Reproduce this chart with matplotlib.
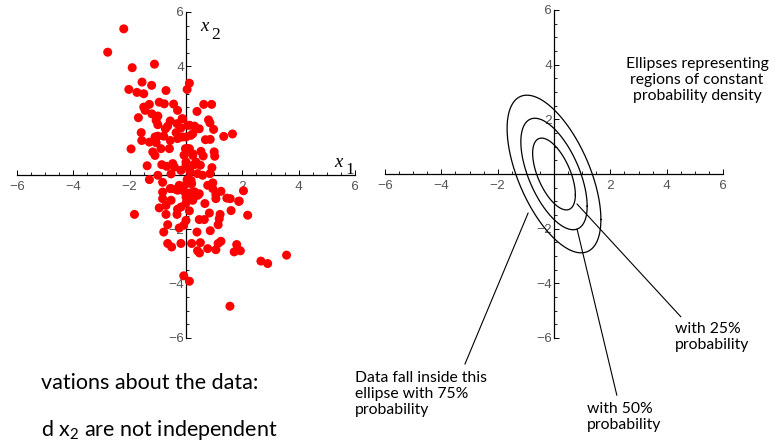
import numpy as np
import matplotlib
matplotlib.use("Agg")
import matplotlib.pyplot as plt
from matplotlib.ticker import FixedLocator, MultipleLocator

# ---------------- data ----------------
x1_vals = [-2.21, -2.78, -1.91, -1.12, -1.56, -1.22, 0.12, 0.04, -2.03, -1.74,
           -1.50, -0.71, -0.95, -0.77, -0.44, -1.30, -1.50, -1.45, -0.30, 0.63,
           0.91, 0.39, -1.21, -1.00, -1.69, -1.06, -0.56, -0.14, 0.80, 0.85,
           -0.32, -1.00, -0.65, 0.06, 0.30, 0.47, 0.98, -0.18, -0.73, -1.59,
           -0.35, 0.24, 1.65, 1.34, -1.00, -1.10, -0.79, -0.12, -1.57, -1.30,
           -1.06, -0.56, -0.30, 0.69, 0.86, -1.95, -0.89, -0.59, -0.02, 0.12,
           0.53, 1.00, -1.18, -1.10, 0.24, 0.61, 1.02, -1.38, -0.86, -0.69,
           -0.47, -0.41, 0.00, 0.09, 0.30, 0.51, 0.92, -1.00, -0.53, -0.18,
           0.15, 0.41, 0.59, 0.85, -1.30, -0.83, -0.24, 0.02, 0.20, 0.95,
           2.04, 1.24, 1.06, -0.56, -0.35, -0.83, 0.18, 0.47, 1.57, 1.89,
           0.77, 0.95, -0.53, -0.30, 0.41, -0.83, -0.53, 0.00, 0.24, 0.67,
           1.06, 1.45, 1.87, -0.95, -0.71, -0.30, -0.18, 0.12, 0.83, 1.60,
           -1.83, -0.71, -0.32, 1.21, 2.19, 0.00, 0.47, 0.65, 1.18, 1.14,
           -0.65, -0.08, -0.24, -0.79, 0.39, 0.86, -0.65, -0.51, -0.18, 0.20,
           0.51, 1.14, 1.24, 0.41, 0.48, 0.77, 1.06, 1.80, 1.71, 1.93,
           2.66, 2.90, 3.57, -0.08, 0.12, 1.56,
           -0.12, 0.00, -0.07, 0.00, 0.04, -0.07, 0.00,
           0.12, 0.17, 0.06, 0.24, 0.35, 0.12, 0.18, 0.30, 0.06]
x2_vals = [5.38, 4.52, 3.95, 4.08, 3.42, 3.30, 3.38, 3.15, 3.15, 3.04,
           2.99, 3.11, 2.68, 2.62, 2.61, 2.60, 2.50, 2.38, 2.38, 2.60,
           2.60, 2.34, 2.25, 2.17, 2.11, 2.01, 1.99, 2.07, 2.03, 1.92,
           1.89, 1.85, 1.80, 1.83, 1.80, 1.70, 1.68, 1.73, 1.70, 1.56,
           1.56, 1.52, 1.51, 1.42, 1.43, 1.40, 1.43, 1.40, 1.27, 1.21,
           1.19, 1.27, 1.34, 1.30, 1.31, 0.96, 0.97, 0.97, 0.97, 0.97,
           0.87, 0.85, 0.85, 0.72, 0.78, 0.70, 0.69, 0.34, 0.38, 0.32,
           0.42, 0.29, 0.48, 0.36, 0.38, 0.36, 0.27, -0.01, 0.04, 0.17,
           0.11, 0.05, -0.01, 0.05, -0.17, -0.27, -0.38, -0.32, -0.32, -0.29,
           -0.58, -0.60, -0.72, -0.50, -0.53, -0.63, -0.65, -0.69, -0.87, -0.96,
           -0.38, -0.50, -0.50, -0.56, -0.75, -0.87, -0.93, -0.81, -0.93, -1.05,
           -0.87, -0.85, -0.97, -1.21, -1.12, -1.26, -1.18, -1.32, -1.40, -1.31,
           -1.45, -1.45, -1.45, -1.45, -1.48, -1.67, -1.64, -1.64, -1.61, -1.83,
           -1.83, -1.85, -1.95, -2.10, -2.10, -2.05, -2.52, -2.65, -2.52, -2.52,
           -2.49, -2.52, -2.44, -2.79, -2.87, -2.71, -2.75, -2.56, -2.83, -2.79,
           -3.17, -3.26, -2.95, -3.71, -3.91, -4.83,
           2.07, 1.40, 0.73, 0.37, -0.17, -0.60, -1.03,
           1.83, 1.46, 0.97, 0.72, 0.48, 0.23, -0.20, -0.62, -0.93]

# Gaussian model for the contour ellipses
cov_xx, cov_xy, cov_yy = 1.0, -1.0, 3.0
probabilities = [0.25, 0.50, 0.75]

major_ticks = [-6, -4, -2, 2, 4, 6]
tick_labels = ["\u22126", "\u22124", "\u22122", "2", "4", "6"]

# ---------------- figure ----------------
W, H = 781, 445
fig = plt.figure(figsize=(W / 100, H / 100), dpi=100)
plt.rcParams["font.family"] = ["Lato", "DejaVu Sans"]


def fx(px):
    return px / W


def fy(py):
    return 1 - py / H


def setup(ax):
    ax.set_xlim(-6, 6)
    ax.set_ylim(-6, 6)
    ax.patch.set_visible(False)
    for s in ["top", "right"]:
        ax.spines[s].set_visible(False)
    for s in ["left", "bottom"]:
        ax.spines[s].set_position(("data", 0))
        ax.spines[s].set_bounds(-6, 6)
        ax.spines[s].set_linewidth(0.9)
        ax.spines[s].set_color("black")
    ax.xaxis.set_major_locator(FixedLocator(major_ticks))
    ax.yaxis.set_major_locator(FixedLocator(major_ticks))
    ax.set_xticklabels(tick_labels)
    ax.set_yticklabels(tick_labels)
    ax.xaxis.set_minor_locator(MultipleLocator(0.5))
    ax.yaxis.set_minor_locator(MultipleLocator(0.5))
    ax.tick_params(which="major", direction="in", length=3.5, width=0.7,
                   color="black", labelsize=9.5, labelcolor="#555555",
                   labelfontfamily="Liberation Mono")
    ax.tick_params(axis="x", which="major", pad=4)
    ax.tick_params(axis="y", which="major", pad=1.5)
    ax.tick_params(which="minor", direction="in", length=2, width=0.6,
                   color="black")


# left panel: scatter
axL = fig.add_axes([fx(17), fy(338), 338 / W, 326 / H])
setup(axL)
axL.scatter(x1_vals, x2_vals, s=42, color="#ff0000", edgecolors="none",
            zorder=3)
serif = "Liberation Serif"
axL.text(0.50, 5.45, "x", fontsize=13.5, style="italic", family=serif,
         ha="left", va="center")
axL.text(0.88, 5.15, "2", fontsize=12.5, family=serif, ha="left", va="center")
axL.text(5.28, 0.47, "x", fontsize=13.5, style="italic", family=serif,
         ha="left", va="center")
axL.text(5.65, 0.20, "1", fontsize=12.5, family=serif, ha="left", va="center")

# right panel: ellipses
axR = fig.add_axes([fx(385), fy(338), 338 / W, 328 / H])
setup(axR)
cov = np.array([[cov_xx, cov_xy], [cov_xy, cov_yy]])
Lc = np.linalg.cholesky(cov)
t = np.linspace(0, 2 * np.pi, 400)
circ = np.vstack([np.cos(t), np.sin(t)])
for p in probabilities:
    r = np.sqrt(-2 * np.log(1 - p))
    pts = r * (Lc @ circ)
    axR.plot(pts[0], pts[1], color="black", lw=0.9, zorder=3)

# leader lines (data coordinates of right panel)
leaders = [((-3.16, -6.95), (-0.92, -1.43)),
           ((2.23, -8.09), (0.82, -2.02)),
           ((4.50, -5.22), (0.82, -1.10))]
for (a, b) in leaders:
    axR.plot([a[0], b[0]], [a[1], b[1]], color="black", lw=0.8,
             clip_on=False, zorder=3)

fs = 11.3
fig.text(fx(697), fy(57), "Ellipses representing\nregions of constant\nprobability density",
         ha="center", va="top", fontsize=fs, linespacing=1.2)
fig.text(fx(355), fy(371), "Data fall inside this\nellipse with 75%\nprobability",
         ha="left", va="top", fontsize=fs, linespacing=1.2)
fig.text(fx(587), fy(402), "with 50%\nprobability",
         ha="left", va="top", fontsize=fs, linespacing=1.2)
fig.text(fx(675), fy(322), "with 25%\nprobability",
         ha="left", va="top", fontsize=fs, linespacing=1.2)

plt.rcParams["mathtext.fontset"] = "custom"
plt.rcParams["mathtext.rm"] = "Lato"
plt.rcParams["mathtext.it"] = "Lato:italic"
fig.text(fx(41), fy(383), "vations about the data:", ha="left", va="center",
         fontsize=15.5)
fig.text(fx(41), fy(430), r"d x$_\mathrm{2}$ are not independent", ha="left",
         va="center", fontsize=15.5)

fig.savefig("out.png", dpi=100)
